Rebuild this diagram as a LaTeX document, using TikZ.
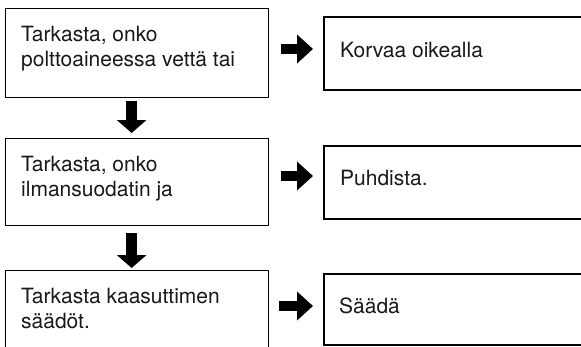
\documentclass[tikz,border=0pt]{standalone}
\usepackage{fontspec}
\setmainfont{TeX Gyre Heros}
\usetikzlibrary{arrows.meta}
\tikzset{
  leftbox/.style={draw=black, line width=1.3pt, rectangle, minimum width=263pt, inner sep=0pt, anchor=north west},
  rightbox/.style={draw=black, line width=1.8pt, rectangle, minimum width=300pt, inner sep=0pt, anchor=north west},
  lbl/.style={anchor=base west, inner sep=0pt, font=\fontsize{21pt}{25pt}\selectfont, align=left, text=black!90},
  blockarrow/.style={draw=black, line width=11pt, -{Triangle[length=13pt,width=29pt]}},
  rightarrow/.style={draw=black, line width=10pt, -{Triangle[length=16pt,width=28pt]}}
}
\begin{document}
\begin{tikzpicture}[x=1pt,y=-1pt]
\useasboundingbox[fill=white] (0,0) rectangle (581,346);
\clip (0,0) rectangle (581,346);
% left boxes
\node[leftbox, minimum height=89pt] (b1) at (5,8) {};
\node[leftbox, minimum height=87pt] (b2) at (5,138) {};
\node[leftbox, minimum height=100pt] (b3) at (5,270) {};
% right boxes
\node[rightbox, minimum height=73pt] (r1) at (323,16) {};
\node[rightbox, minimum height=73pt] (r2) at (323,145) {};
\node[rightbox, minimum height=71pt] (r3) at (323,273) {};
% texts (anchored at the baseline of the last line)
\node[lbl] (t1) at (21,66) {Tarkasta, onko\\polttoaineessa vettä tai};
\node[lbl] (t2) at (21,196) {Tarkasta, onko\\ilmansuodatin ja};
\node[lbl] (t3) at (21,328) {Tarkasta kaasuttimen\\säädöt.};
\node[lbl] (u1) at (340,57) {Korvaa oikealla};
\node[lbl] (u2) at (340,185) {Puhdista.};
\node[lbl] (u3) at (339,313) {Säädä};
% down arrows
\draw[blockarrow] ([xshift=-5.5pt,yshift=-3pt]b1.south) -- ([xshift=-5.5pt,yshift=5pt]b2.north);
\draw[blockarrow] ([xshift=-5.5pt,yshift=-7pt]b2.south) -- ([xshift=-5.5pt,yshift=2pt]b3.north);
% right arrows
\draw[rightarrow] ([xshift=12pt]b1.east |- 0,49) -- ([xshift=-10pt]r1.west |- 0,49);
\draw[rightarrow] ([xshift=12pt]b2.east |- 0,176) -- ([xshift=-10pt]r2.west |- 0,176);
\draw[rightarrow] ([xshift=10pt]b3.east |- 0,306) -- ([xshift=-10pt]r3.west |- 0,306);
\end{tikzpicture}
\end{document}
